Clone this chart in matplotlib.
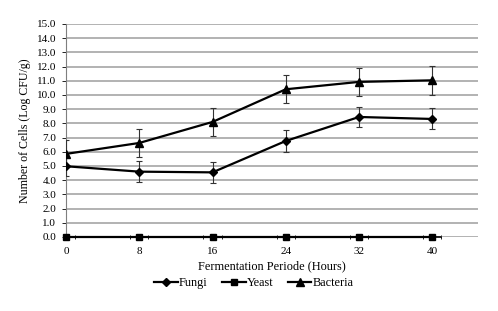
import matplotlib.pyplot as plt
from matplotlib.lines import Line2D
from matplotlib.ticker import MultipleLocator, FixedLocator

hours = [0, 8, 16, 24, 32, 40]
fungi = [4.98, 4.60, 4.55, 6.76, 8.45, 8.31]
fungi_err = [0.70, 0.73, 0.72, 0.75, 0.70, 0.74]
yeast = [0, 0, 0, 0, 0, 0]
bacteria = [5.85, 6.62, 8.10, 10.40, 10.92, 11.03]
bacteria_err = [0.95, 1.00, 1.00, 1.00, 1.00, 1.00]

plt.rcParams["font.family"] = ["Liberation Serif", "DejaVu Serif"]

fig = plt.figure(figsize=(4.98, 3.11), dpi=100)
ax = fig.add_axes([0.1325, 0.238, 0.8275, 0.685])

err_style = dict(ecolor="#333333", elinewidth=0.8, capsize=2.5, capthick=0.8)
ax.errorbar(hours, fungi, yerr=fungi_err, marker="D", markersize=4.5, color="black",
            linewidth=1.6, zorder=3, **err_style)
ax.plot(hours, yeast, marker="s", color="black", linewidth=1.6, markersize=5,
        zorder=4, clip_on=False)
ax.errorbar(hours, bacteria, yerr=bacteria_err, marker="^", markersize=5.8, color="black",
            linewidth=1.6, zorder=3, **err_style)

ax.set_xlim(0, 45)
ax.set_ylim(0, 15)
ax.yaxis.set_major_locator(MultipleLocator(1))
ax.yaxis.set_major_formatter(lambda v, p: f"{v:.1f}")
ax.set_xticks(hours)
ax.xaxis.set_minor_locator(FixedLocator([1, 7, 9, 15, 17, 23, 25, 31, 33, 39, 41]))
ax.tick_params(axis="x", which="major", length=0, pad=7, labelsize=8)
ax.tick_params(axis="x", which="minor", length=3, direction="inout", width=0.6)
ax.tick_params(axis="y", length=3, width=0.6, labelsize=8, pad=4)

ax.grid(axis="y", color="#a6a6a6", linewidth=1.2, zorder=0)
ax.set_axisbelow(True)
for s in ("top", "right"):
    ax.spines[s].set_visible(False)
ax.spines["left"].set_color("#7f7f7f")
ax.spines["left"].set_linewidth(0.8)
ax.spines["bottom"].set_bounds(0, 41)
ax.spines["bottom"].set_linewidth(1.2)

ax.set_xlabel("Fermentation Periode (Hours)", fontsize=8.8, labelpad=3)
ax.set_ylabel("Number of Cells (Log CFU/g)", fontsize=8.6, labelpad=4)

handles = [
    Line2D([], [], color="black", linewidth=1.6, marker="D", markersize=4.5),
    Line2D([], [], color="black", linewidth=1.6, marker="s", markersize=5),
    Line2D([], [], color="black", linewidth=1.6, marker="^", markersize=5.8),
]
fig.legend(handles, ["Fungi", "Yeast", "Bacteria"], loc="center",
           bbox_to_anchor=(0.51, 0.09), ncol=3, frameon=False, fontsize=8.8,
           handlelength=1.9, handletextpad=0.1, columnspacing=1.2)

fig.savefig("out.png", dpi=100)
